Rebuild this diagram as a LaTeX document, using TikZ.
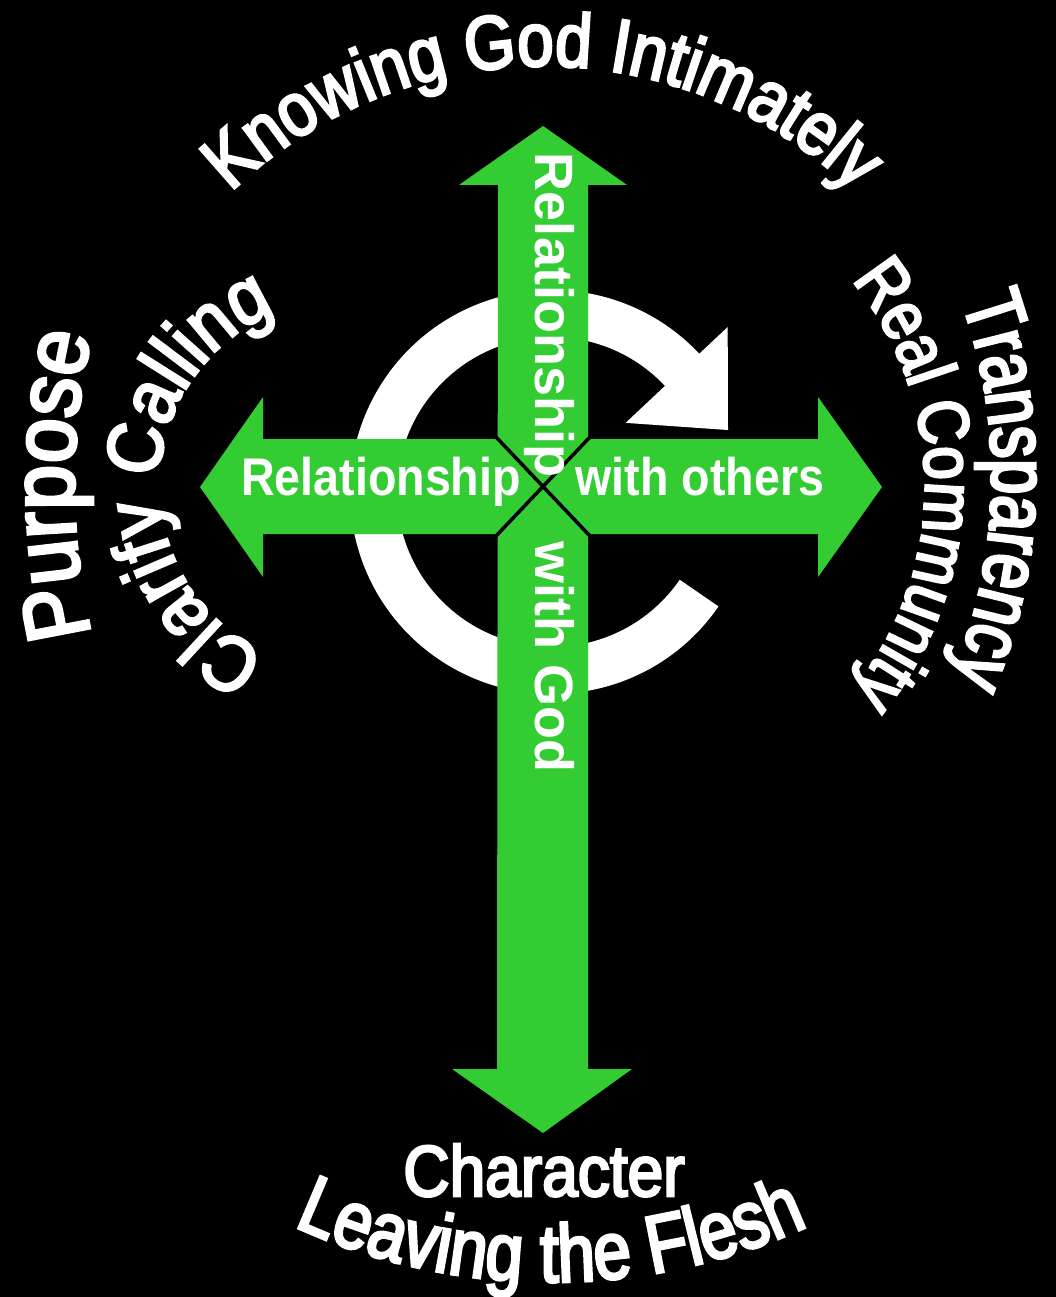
\documentclass[tikz,border=0pt]{standalone}
\usepackage{fontspec}
\setmainfont{Liberation Sans}
\newfontfamily\fKnow{Liberation Sans}[FakeStretch=0.86,FakeBold=3.5]
\newfontfamily\fCall{Liberation Sans}[FakeStretch=0.90,FakeBold=3.5]
\newfontfamily\fPurp{Liberation Sans}[FakeStretch=0.90,FakeBold=3.5]
\newfontfamily\fTran{Liberation Sans}[FakeStretch=0.77,FakeBold=3.5]
\newfontfamily\fReal{Liberation Sans}[FakeStretch=0.85,FakeBold=3.5]
\newfontfamily\fLeav{Liberation Sans}[FakeStretch=0.82,FakeBold=3.5]
\newfontfamily\fChar{Liberation Sans}[FakeStretch=0.89,FakeBold=3.5]
\newfontfamily\fLabH{Liberation Sans}[FakeStretch=0.88]
\newfontfamily\fLabV{Liberation Sans}
\usetikzlibrary{decorations.text,calc}
\definecolor{crossgreen}{RGB}{51,204,51}
\tikzset{
  curvedtext/.style={decorate, decoration={text along path, text align=center, text={#1}}},
  greenarrow/.style={fill=crossgreen, draw=none},
  ringband/.style={fill=white, draw=none},
  splitline/.style={draw=black, line width=3.5pt},
  armlabel/.style={text=white, inner sep=0pt, anchor=base},
}
\begin{document}
\begin{tikzpicture}[x=1pt,y=-1pt]
\fill[black] (0,0) rectangle (1056,1297);
\useasboundingbox (0,0) rectangle (1056,1297);

% circular arrow (behind the cross)
\coordinate (rc) at (552,492);
\path[ringband] (rc) ++(34.5:202) arc[start angle=34.5, end angle=318, radius=202]
  -- ($(rc)+(318:155)$) arc[start angle=318, end angle=34.5, radius=155] -- cycle;
\path[ringband] ($(rc)+(316.8:241)$) -- ($(rc)+(-19.4:186.6)$) -- ($(rc)+(316.8:101)$) -- cycle;

% green cross of double arrows
\path[greenarrow] (543,126) -- (627,185) -- (588,185) -- (588,1069) -- (632,1069)
  -- (543,1133) -- (452,1069) -- (497,1069) -- (498,185) -- (459,185) -- cycle;
\path[greenarrow] (200,487) -- (263,397) -- (263,439) -- (818,439) -- (818,397)
  -- (882,487) -- (818,577) -- (818,534) -- (263,534) -- (263,577) -- cycle;
\coordinate (xa) at (496,437);
\coordinate (xb) at (590,536);
\coordinate (xc) at (590,437);
\coordinate (xd) at (496,536);
\draw[splitline] (xa) -- (xb);
\draw[splitline] (xc) -- (xd);

% labels on the arms
\node[armlabel, font=\fLabH\bfseries\fontsize{53}{53}\selectfont] (lrel) at (381,495) {Relationship};
\node[armlabel, font=\fLabH\bfseries\fontsize{53}{53}\selectfont] (lwo) at (700,495) {with others};
\node[armlabel, rotate=-90, font=\fLabV\bfseries\fontsize{54}{54}\selectfont] (lvrel) at (535,315) {Relationship};
\node[armlabel, rotate=-90, font=\fLabV\bfseries\fontsize{54}{54}\selectfont] (lwg) at (535,657) {with God};

% curved texts
\path[curvedtext={|\fKnow\fontsize{76}{76}\selectfont\color{white}|Knowing God Intimately}]
  (543,515) ++(-150:449) arc[start angle=-150, end angle=-30, radius=449];
\path[curvedtext={|\fCall\fontsize{78}{78}\selectfont\color{white}|Clarify Calling}]
  (345,485) ++(91.5:186) arc[start angle=91.5, end angle=271.5, radius=186];
\path[curvedtext={|\fPurp\fontsize{90}{90}\selectfont\color{white}|Purpose}]
  (724,485) ++(150:650) arc[start angle=150, end angle=210, radius=650];
\path[curvedtext={|\fTran\fontsize{82}{82}\selectfont\color{white}|Transparency}]
  (467,477) ++(-28.5:525) arc[start angle=-28.5, end angle=31.5, radius=525];
\path[curvedtext={|\fReal\fontsize{71}{71}\selectfont\color{white}|Real Community}]
  (600,486) ++(-50:325) arc[start angle=-50, end angle=50, radius=325];
\path[curvedtext={|\fLeav\fontsize{82}{82}\selectfont\color{white}|Leaving the Flesh}]
  (551,664) ++(130:618) arc[start angle=130, end angle=50, radius=618];
\node[armlabel, font=\fChar\fontsize{72}{72}\selectfont] (chr) at (544,1196) {Character};
\end{tikzpicture}
\end{document}
